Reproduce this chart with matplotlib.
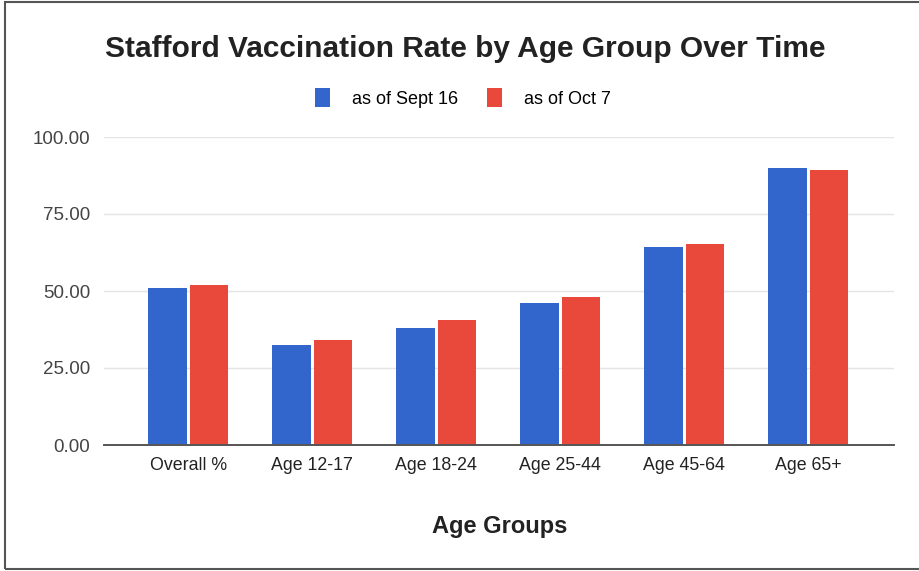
import numpy as np
import matplotlib
matplotlib.use('Agg')
from matplotlib import pyplot as plt
from matplotlib.patches import Rectangle

plt.rcParams['font.family'] = ['Liberation Sans', 'DejaVu Sans']

groups = ['Overall %', 'Age 12-17', 'Age 18-24', 'Age 25-44', 'Age 45-64', 'Age 65+']
sept16 = [50.9, 32.6, 38.0, 46.0, 64.4, 89.9]
oct7 = [52.0, 34.1, 40.5, 47.9, 65.3, 89.4]
yticks = [0, 25, 50, 75, 100]

fig = plt.figure(figsize=(9.19, 5.71), dpi=100)
ax = fig.add_axes([104 / 919, 1 - 445 / 571, (894 - 104) / 919, (445 - 137) / 571])

x = np.arange(len(groups))
w = 0.31
ax.bar(x - w / 2 - 0.012, sept16, w, color='#3366cc', label='as of Sept 16', zorder=3)
ax.bar(x + w / 2 + 0.012, oct7, w, color='#e8493b', label='as of Oct 7', zorder=3)

ax.set_xlim(-0.68, 5.69)
ax.set_ylim(0, 100)
ax.set_yticks(yticks)
ax.set_yticklabels([f'{v:.2f}' for v in yticks], color='#444444', fontsize=13.5)
ax.set_xticks(x)
ax.set_xticklabels(groups, color='#222222', fontsize=12.8)
ax.tick_params(length=0, pad=9)
ax.tick_params(axis='y', pad=10)
ax.grid(axis='y', color='#e4e4e4', linewidth=1, zorder=0)
for s in ['top', 'right', 'left']:
    ax.spines[s].set_visible(False)
ax.spines['bottom'].set_color('#555555')
ax.spines['bottom'].set_linewidth(1.4)
ax.spines['bottom'].set_zorder(4)

fig.text(465 / 919, 1 - 49 / 571, 'Stafford Vaccination Rate by Age Group Over Time',
         ha='center', va='center', fontsize=21.5, fontweight='bold', color='#222222')
fig.text(500 / 919, 1 - 526 / 571, 'Age Groups', ha='center', va='center',
         fontsize=17, fontweight='bold', color='#222222')

fig.legend(loc='center', bbox_to_anchor=(463 / 919, 1 - 98 / 571), ncol=2, frameon=False,
           fontsize=13, handlelength=0.85, handleheight=1.2, columnspacing=1.6,
           handletextpad=1.2)

# scanned page border
fig.patches.append(Rectangle((5 / 919, 2 / 571), 1.2, 1 - 4 / 571, transform=fig.transFigure,
                             fill=False, edgecolor='#555555', linewidth=1.5))

plt.savefig('out.png', dpi=100)
